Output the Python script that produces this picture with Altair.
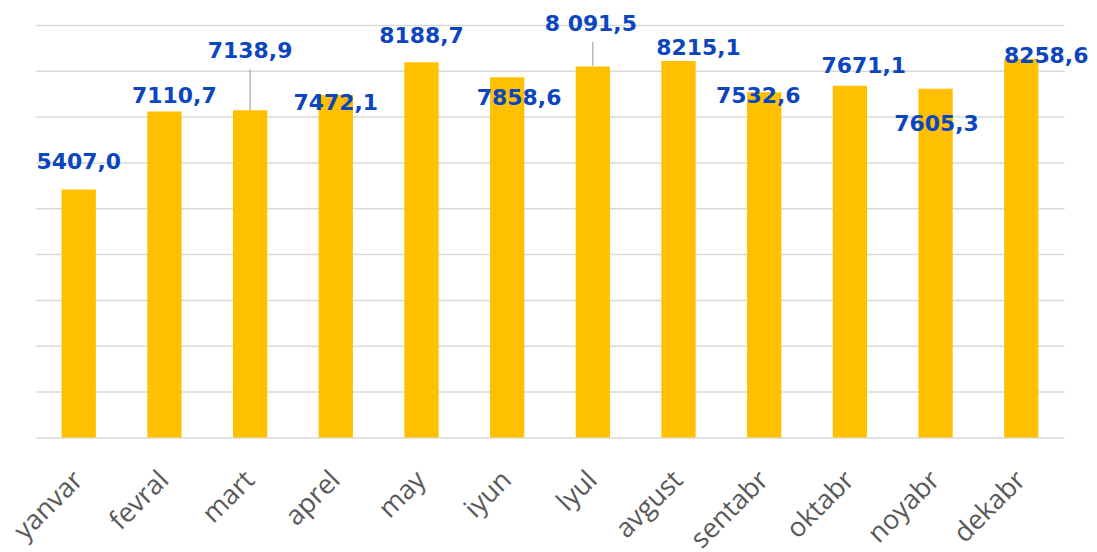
import altair as alt
import pandas as pd

months = ["yanvar", "fevral", "mart", "aprel", "may", "iyun", "lyul",
          "avgust", "sentabr", "oktabr", "noyabr", "dekabr"]
values = [5407.0, 7110.7, 7138.9, 7472.1, 8188.7, 7858.6, 8091.5,
          8215.1, 7532.6, 7671.1, 7605.3, 8258.6]
label_texts = ["5407,0", "7110,7", "7138,9", "7472,1", "8188,7", "7858,6",
               "8 091,5", "8215,1", "7532,6", "7671,1", "7605,3", "8258,6"]
# label anchor heights (value units) as placed in the original chart
label_y = [6000, 7457, 8435, 7304, 8761, 7413, 9011, 8500, 7457, 8109, 6848, 8326]
label_dx = [0, 10, 0, 0, 0, 12, -2, 20, -6, 14, 1, 25]
leader_months = ["mart", "lyul"]
leader_top = [8022, 8630]
leader_bottom = [7139, 8109]

df = pd.DataFrame({"month": months, "value": values,
                   "label": label_texts, "label_y": label_y})
lead = pd.DataFrame({"month": leader_months, "top": leader_top, "bottom": leader_bottom})

x_scale = alt.Scale(paddingInner=0.6, paddingOuter=0.3)
y_scale = alt.Scale(domain=[0, 9000], nice=False)

bars = alt.Chart(df).mark_bar(color="#FFC000").encode(
    x=alt.X("month:N", sort=months, title=None, scale=x_scale,
            axis=alt.Axis(labelAngle=-45, labelFont="Open Sans", labelFontSize=27,
                          labelColor="#595959", ticks=False, domain=False,
                          labelPadding=29, labelOffset=-9, grid=False)),
    y=alt.Y("value:Q", scale=y_scale, title=None,
            axis=alt.Axis(values=list(range(0, 9001, 1000)), labels=False, ticks=False,
                          domain=False, grid=True, gridColor="#D9D9D9", gridWidth=1.5)),
)

leaders = alt.Chart(lead).mark_rule(color="#A6A6A6", strokeWidth=1.2).encode(
    x=alt.X("month:N", sort=months),
    y=alt.Y("top:Q", scale=y_scale),
    y2="bottom:Q",
)

layers = [bars, leaders]
for i, m in enumerate(months):
    t = alt.Chart(df[df["month"] == m]).mark_text(
        font="DejaVu Sans", fontWeight="bold", fontSize=22, color="#0B45BF",
        baseline="middle", align="center", dx=label_dx[i]
    ).encode(
        x=alt.X("month:N", sort=months),
        y=alt.Y("label_y:Q", scale=y_scale),
        text="label:N",
    )
    layers.append(t)

chart = alt.layer(*layers).properties(
    width=1032, height=414,
    background="white",
    autosize=alt.AutoSizeParams(type="none"),
    padding={"left": 28, "top": 16, "right": 25, "bottom": 114},
).configure_view(strokeWidth=0, stroke="transparent").configure_axis(
    domain=False, ticks=False
)

chart.save("out.html", embed_options={"renderer": "svg", "actions": False})
